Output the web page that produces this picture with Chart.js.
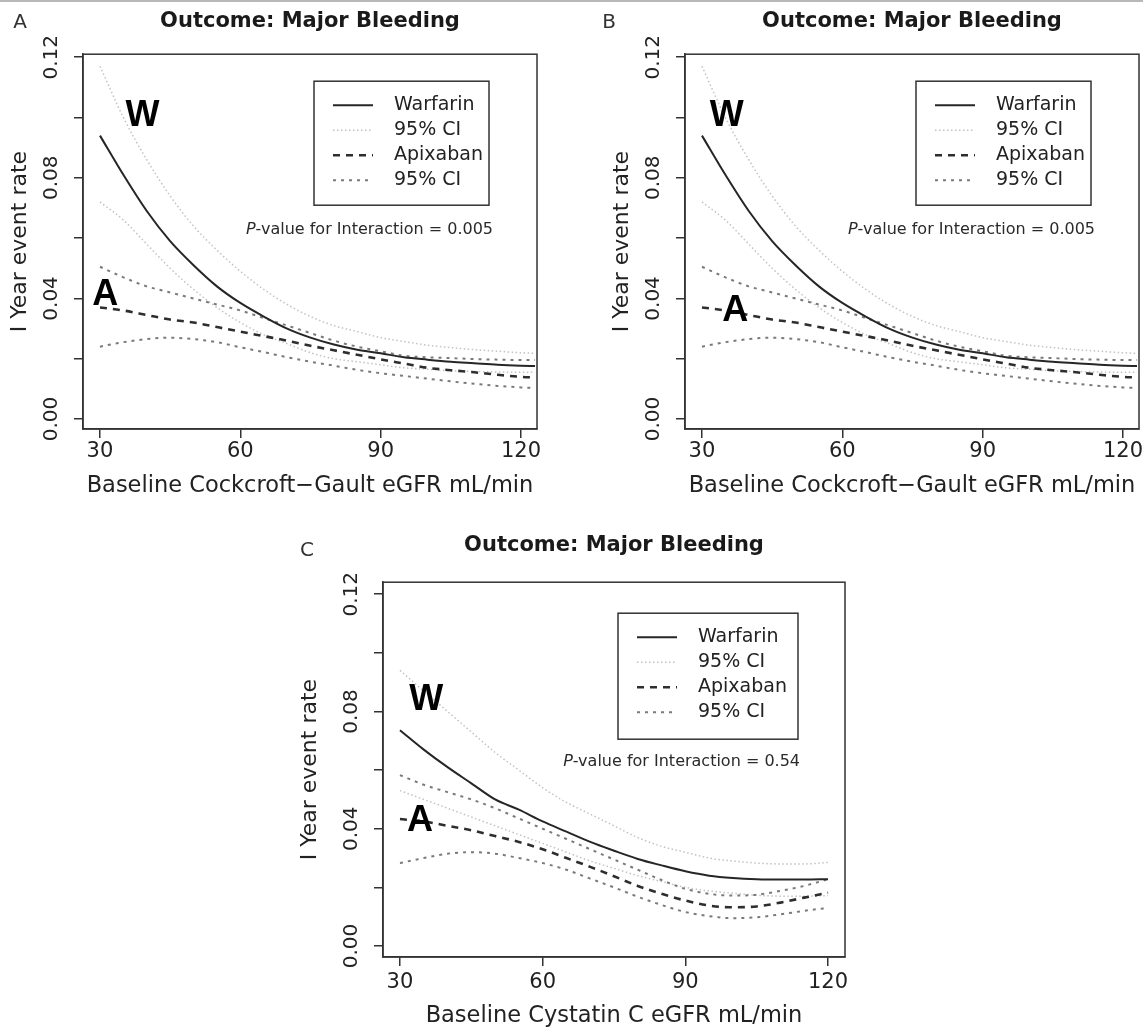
<!DOCTYPE html>
<html>
<head>
<meta charset="utf-8">
<script src="https://cdn.jsdelivr.net/npm/chart.js@4.4.1/dist/chart.umd.min.js"></script>
<style>
  html, body { margin: 0; padding: 0; background: #fff; }
  body { width: 1143px; height: 1030px; position: relative; overflow: hidden; font-family: "DejaVu Sans", sans-serif; }
  .rule { position: absolute; left: 0; top: 0; width: 1143px; height: 2px; background: #b8b8b8; }
  .panel { position: absolute; }
  .tag { position: absolute; font-size: 20px; line-height: 20px; color: #333; transform: translate(-50%, -50%); }
</style>
</head>
<body>
<div class="rule"></div>
<div class="panel" style="left:0px;top:0px"><canvas id="cA" width="570" height="520"></canvas></div>
<div class="panel" style="left:602px;top:0px"><canvas id="cB" width="570" height="520"></canvas></div>
<div class="panel" style="left:300px;top:528px"><canvas id="cC" width="578" height="520"></canvas></div>
<div class="tag" style="left:20px;top:21px">A</div>
<div class="tag" style="left:609px;top:21px">B</div>
<div class="tag" style="left:307px;top:549px">C</div>

<script>
// Cockcroft-Gault eGFR curves (panels A and B show the same fit)
const cgX = [30, 35, 40, 45, 50, 55, 60, 65, 70, 75, 80, 85, 90, 95, 100, 105, 110, 115, 120, 123];
const cgWarfarin   = [0.094, 0.081, 0.069, 0.059, 0.051, 0.044, 0.0385, 0.034, 0.030, 0.027, 0.0247, 0.023, 0.0218, 0.0205, 0.0197, 0.019, 0.0185, 0.018, 0.0177, 0.0176];
const cgWarfarinHi = [0.117, 0.100, 0.086, 0.074, 0.064, 0.056, 0.049, 0.043, 0.038, 0.034, 0.031, 0.029, 0.027, 0.0257, 0.0245, 0.0237, 0.023, 0.0225, 0.022, 0.0218];
const cgWarfarinLo = [0.072, 0.066, 0.058, 0.050, 0.043, 0.037, 0.032, 0.028, 0.025, 0.022, 0.020, 0.019, 0.018, 0.017, 0.0165, 0.016, 0.0158, 0.0156, 0.0155, 0.0155];
const cgApixaban   = [0.037, 0.036, 0.0345, 0.033, 0.032, 0.0305, 0.029, 0.0275, 0.026, 0.0243, 0.0228, 0.0213, 0.0198, 0.0184, 0.017, 0.0162, 0.0155, 0.0147, 0.014, 0.0138];
const cgApixabanHi = [0.0505, 0.047, 0.044, 0.042, 0.040, 0.038, 0.036, 0.0335, 0.031, 0.0285, 0.026, 0.024, 0.0225, 0.021, 0.0205, 0.0202, 0.0199, 0.0197, 0.0196, 0.0196];
const cgApixabanLo = [0.024, 0.0255, 0.0265, 0.027, 0.0265, 0.0255, 0.0238, 0.0222, 0.0205, 0.019, 0.0177, 0.0163, 0.0152, 0.0143, 0.0134, 0.0125, 0.0117, 0.011, 0.0105, 0.0103];

// Cystatin C eGFR curves (panel C)
const cysX = [30, 35, 40, 45, 50, 55, 60, 65, 70, 75, 80, 85, 90, 95, 100, 105, 110, 115, 120];
const cysWarfarin   = [0.0736, 0.067, 0.061, 0.0555, 0.050, 0.0465, 0.0425, 0.039, 0.0355, 0.0325, 0.0297, 0.0275, 0.0255, 0.024, 0.0232, 0.0228, 0.0227, 0.0227, 0.0228];
const cysWarfarinHi = [0.094, 0.087, 0.080, 0.073, 0.066, 0.060, 0.054, 0.049, 0.045, 0.041, 0.037, 0.034, 0.032, 0.030, 0.029, 0.0283, 0.028, 0.028, 0.0285];
const cysWarfarinLo = [0.053, 0.050, 0.047, 0.044, 0.041, 0.038, 0.035, 0.032, 0.029, 0.0265, 0.024, 0.022, 0.020, 0.0188, 0.018, 0.0173, 0.017, 0.017, 0.0172];
const cysApixaban   = [0.0433, 0.0425, 0.041, 0.0395, 0.0375, 0.0355, 0.033, 0.030, 0.027, 0.0238, 0.0205, 0.0178, 0.0155, 0.0138, 0.0132, 0.0135, 0.0148, 0.0165, 0.0182];
const cysApixabanHi = [0.0583, 0.055, 0.0525, 0.050, 0.047, 0.0435, 0.040, 0.0365, 0.033, 0.0295, 0.026, 0.0225, 0.0195, 0.0178, 0.0172, 0.0175, 0.0188, 0.0205, 0.0228];
const cysApixabanLo = [0.0283, 0.030, 0.0315, 0.032, 0.0315, 0.030, 0.0283, 0.026, 0.023, 0.020, 0.0168, 0.014, 0.0116, 0.0102, 0.0095, 0.0098, 0.0108, 0.012, 0.013];

const yTicks = [0, 0.02, 0.04, 0.06, 0.08, 0.10, 0.12];
const yLabelled = [0, 0.04, 0.08, 0.12];
const xTicks = [30, 60, 90, 120];
const legendLabels = ['Warfarin', '95% CI', 'Apixaban', '95% CI'];
const chartTitle = 'Outcome: Major Bleeding';
const yTitle = 'I Year event rate';

const FONT = '"DejaVu Sans", sans-serif';
const INK = '#333';

const STYLE = {
  warfarin:   { color: '#262626', width: 2,   dash: [] },
  warfarinCI: { color: '#c2c2c2', width: 1.5, dash: [1.5, 2.5] },
  apixaban:   { color: '#2e2e2e', width: 2.6, dash: [7, 6] },
  apixabanCI: { color: '#7a7a7a', width: 2,   dash: [3, 5] },
};
const legendKeys = ['warfarin', 'warfarinCI', 'apixaban', 'apixabanCI'];

const line = (label, xs, ys, st) => ({
  label,
  data: xs.map((x, i) => ({ x, y: ys[i] })),
  borderColor: st.color,
  borderWidth: st.width,
  borderDash: st.dash,
  pointRadius: 0,
  fill: false,
  cubicInterpolationMode: 'monotone',
});

// box around the plotting region, as in base R graphics
const frame = {
  id: 'frame',
  afterDatasetsDraw(chart) {
    const { ctx, chartArea: a } = chart;
    ctx.save();
    ctx.strokeStyle = INK;
    ctx.lineWidth = 1.5;
    ctx.strokeRect(a.left, a.top, a.right - a.left, a.bottom - a.top);
    ctx.restore();
  }
};

// legend box + interaction p-value inside the plot
const legendBox = {
  id: 'legendBox',
  afterDatasetsDraw(chart, args, o) {
    const { ctx, chartArea: a } = chart;
    const left = a.left + o.dx, top = a.top + o.dy;
    ctx.save();
    ctx.fillStyle = '#fff';
    ctx.fillRect(left, top, o.w, o.h);
    ctx.strokeStyle = INK;
    ctx.lineWidth = 1.5;
    ctx.strokeRect(left, top, o.w, o.h);
    ctx.textBaseline = 'middle';
    legendKeys.forEach((key, i) => {
      const st = STYLE[key];
      const y = top + 24 + i * 25;
      ctx.beginPath();
      ctx.setLineDash(st.dash);
      ctx.strokeStyle = st.color;
      ctx.lineWidth = st.width;
      ctx.moveTo(left + 19, y);
      ctx.lineTo(left + 59, y);
      ctx.stroke();
      ctx.setLineDash([]);
      ctx.fillStyle = '#222';
      ctx.font = '19px ' + FONT;
      ctx.textAlign = 'left';
      ctx.fillText(legendLabels[i], left + 80, y);
    });
    // P-value line, right aligned
    const rest = '-value for Interaction = ' + o.pValue;
    ctx.font = '16px ' + FONT;
    const wRest = ctx.measureText(rest).width;
    const right = a.left + o.pRight, py = a.top + o.pY;
    ctx.fillStyle = '#2a2a2a';
    ctx.fillText(rest, right - wRest, py);
    ctx.font = 'italic 16px ' + FONT;
    const wP = ctx.measureText('P').width;
    ctx.fillText('P', right - wRest - wP, py);
    ctx.restore();
  }
};

// W / A curve labels placed in data coordinates
const curveTags = {
  id: 'curveTags',
  afterDatasetsDraw(chart, args, o) {
    const { ctx, scales: { x, y } } = chart;
    ctx.save();
    ctx.font = 'bold 36px "Liberation Sans", Arial, sans-serif';
    ctx.fillStyle = '#000';
    ctx.textAlign = 'center';
    ctx.textBaseline = 'middle';
    o.tags.forEach(([t, xv, yv]) => ctx.fillText(t, x.getPixelForValue(xv), y.getPixelForValue(yv)));
    ctx.restore();
  }
};

const panels = [
  {
    id: 'cA', xs: cgX,
    series: [cgWarfarin, cgWarfarinHi, cgWarfarinLo, cgApixaban, cgApixabanHi, cgApixabanLo],
    xTitle: 'Baseline Cockcroft\u2212Gault eGFR mL/min', pValue: '0.005',
    xMin: 26.37, xMax: 123.42, yMin: -0.0033, yMax: 0.121,
    tags: [['W', 39.1, 0.1004], ['A', 31.1, 0.0411]],
    titlePad: { top: 9, bottom: 20 }, yTitlePad: 7, xTickPad: 1, xTitlePad: 20,
    legend: { dx: 231, dy: 27, w: 175, h: 124, pRight: 410, pY: 176 },
    padRight: 33
  },
  {
    id: 'cB', xs: cgX,
    series: [cgWarfarin, cgWarfarinHi, cgWarfarinLo, cgApixaban, cgApixabanHi, cgApixabanLo],
    xTitle: 'Baseline Cockcroft\u2212Gault eGFR mL/min', pValue: '0.005',
    xMin: 26.37, xMax: 123.42, yMin: -0.0033, yMax: 0.121,
    tags: [['W', 35.3, 0.1004], ['A', 37.1, 0.0358]],
    titlePad: { top: 9, bottom: 20 }, yTitlePad: 7, xTickPad: 1, xTitlePad: 20,
    legend: { dx: 231, dy: 27, w: 175, h: 124, pRight: 410, pY: 176 },
    padRight: 33
  },
  {
    id: 'cC', xs: cysX,
    series: [cysWarfarin, cysWarfarinHi, cysWarfarinLo, cysApixaban, cysApixabanHi, cysApixabanLo],
    xTitle: 'Baseline Cystatin C eGFR mL/min', pValue: '0.54',
    xMin: 26.43, xMax: 123.57, yMin: -0.00375, yMax: 0.1241,
    tags: [['W', 35.5, 0.0839], ['A', 34.2, 0.0426]],
    titlePad: { top: 5, bottom: 24 }, yTitlePad: -3, xTickPad: 4, xTitlePad: 18,
    legend: { dx: 235, dy: 31, w: 180, h: 126, pRight: 417, pY: 180 },
    padRight: 33
  }
];

panels.forEach(p => {
  const [w, wHi, wLo, ap, apHi, apLo] = p.series;
  const datasets = [
    line('Warfarin', p.xs, w, STYLE.warfarin),
    line('Apixaban', p.xs, ap, STYLE.apixaban),
    line('Apixaban 95% CI upper', p.xs, apHi, STYLE.apixabanCI),
    line('Apixaban 95% CI lower', p.xs, apLo, STYLE.apixabanCI),
    line('Warfarin 95% CI upper', p.xs, wHi, STYLE.warfarinCI),
    line('Warfarin 95% CI lower', p.xs, wLo, STYLE.warfarinCI),
  ];

  new Chart(document.getElementById(p.id).getContext('2d'), {
    type: 'line',
    data: { datasets },
    options: {
      responsive: false,
      animation: false,
      devicePixelRatio: 1,
      layout: { padding: { left: 0, right: p.padRight, top: 0, bottom: 0 } },
      scales: {
        x: {
          type: 'linear',
          min: p.xMin,
          max: p.xMax,
          afterBuildTicks: s => { s.ticks = xTicks.map(v => ({ value: v })); },
          afterFit: s => { s.height = 91; },
          border: { display: true, color: INK, width: 1.5 },
          grid: { drawOnChartArea: false, drawTicks: true, tickLength: 9, color: INK, lineWidth: 1.5 },
          ticks: {
            color: '#222', font: { family: FONT, size: 21 }, padding: p.xTickPad,
            autoSkip: false, maxRotation: 0, callback: v => String(v)
          },
          title: {
            display: true, text: p.xTitle, color: '#222',
            font: { family: FONT, size: 22.5 }, padding: { top: 0, bottom: p.xTitlePad }
          }
        },
        y: {
          type: 'linear',
          min: p.yMin,
          max: p.yMax,
          afterBuildTicks: s => { s.ticks = yTicks.map(v => ({ value: v })); },
          afterFit: s => { s.width = 83; },
          border: { display: true, color: INK, width: 1.5 },
          grid: { drawOnChartArea: false, drawTicks: true, tickLength: 9, color: INK, lineWidth: 1.5 },
          ticks: {
            color: '#222', font: { family: FONT, size: 20 }, padding: 0,
            autoSkip: false, minRotation: 90, maxRotation: 90, crossAlign: 'center',
            callback: v => yLabelled.some(t => Math.abs(t - v) < 1e-9) ? v.toFixed(2) : ''
          },
          title: {
            display: true, text: yTitle, color: '#222',
            font: { family: FONT, size: 22 }, padding: { top: p.yTitlePad, bottom: 0 }
          }
        }
      },
      plugins: {
        legend: { display: false },
        tooltip: { enabled: false },
        title: {
          display: true, text: chartTitle, fullSize: false, color: '#1a1a1a',
          font: { family: FONT, size: 21, weight: 'bold' }, padding: p.titlePad
        },
        legendBox: Object.assign({ pValue: p.pValue }, p.legend),
        curveTags: { tags: p.tags }
      }
    },
    plugins: [frame, legendBox, curveTags]
  });
});
</script>
</body>
</html>
